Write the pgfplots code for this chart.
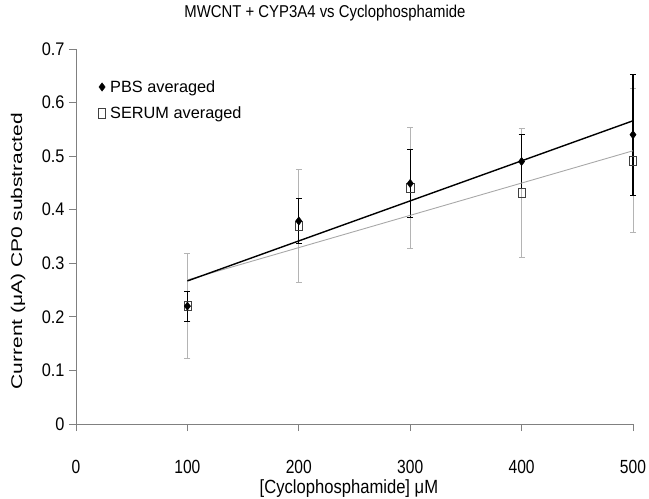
\documentclass[border=0pt]{standalone}
\usepackage{fontspec}
\setmainfont{Liberation Sans}
\usepackage{pgfplots}
\pgfplotsset{compat=1.18}
\definecolor{axgray}{HTML}{808080}
\definecolor{errgray}{HTML}{B4B4B4}
\definecolor{trendgray}{HTML}{A8A8A8}
\begin{document}
\begin{tikzpicture}
\useasboundingbox (0,0) rectangle (649bp,499bp);
\begin{axis}[
  at={(76bp,75bp)}, anchor=south west,
  scale only axis, width=557bp, height=375bp,
  xmin=0, xmax=500, ymin=0, ymax=0.7,
  axis lines=left,
  axis line style={-, axgray, line width=0.9bp},
  xtick={0,100,...,500},
  ytick={0,0.1,...,0.7},
  tick align=outside,
  major tick length=7bp,
  tick style={axgray, line width=0.8bp},
  /pgf/number format/assume math mode=true,
  /pgf/number format/fixed,
  xticklabel={\scalebox{1}[1.22]{\pgfmathprintnumber{\tick}}},
  yticklabel={\scalebox{1}[1.12]{\pgfmathprintnumber{\tick}}},
  xticklabel style={font=\fontsize{15.6bp}{18bp}\selectfont, yshift=-26bp},
  yticklabel style={font=\fontsize{16.3bp}{18bp}\selectfont, xshift=-1bp},
  every axis title shift=0pt,
  title={\scalebox{1}[1.15]{MWCNT + CYP3A4 vs Cyclophosphamide}},
  title style={at={(axis description cs:0.447,1.097)}, anchor=center, yshift=0pt, inner sep=0pt, font=\fontsize{14.9bp}{17bp}\selectfont},
  xlabel={\scalebox{1}[1.15]{[Cyclophosphamide] μM}},
  xlabel style={at={(axis description cs:0.490,-0.173)}, anchor=center, inner sep=0pt, font=\fontsize{16.6bp}{18bp}\selectfont},
  ylabel={\scalebox{1.35}[1]{Current (μA) CP0 substracted}},
  ylabel style={at={(axis description cs:-0.104,0.461)}, anchor=center, inner sep=0pt, font=\fontsize{15.5bp}{18bp}\selectfont},
  legend style={draw=none, fill=none, at={(axis description cs:0.040,0.917)}, anchor=north west,
    font=\fontsize{16.3bp}{19bp}\selectfont, row sep=13bp, inner sep=0pt,
    nodes={inner xsep=4.5bp, inner ysep=0pt}},
  legend cell align=left,
  reverse legend,
  clip=false,
]
% SERUM averaged
\addplot[only marks, mark=square, mark size=4bp, mark options={draw=black!75, fill=white, line width=0.6bp, xscale=0.9, yscale=1.15},
  error bars/.cd, y dir=both, y explicit,
  error bar style={errgray, line width=0.8bp},
  error mark options={rotate=90, errgray, mark size=3bp, line width=0.8bp}]
  coordinates {
  (100,0.220) +- (0,0.098)
  (200,0.370) +- (0,0.106)
  (300,0.441) +- (0,0.113)
  (400,0.431) +- (0,0.120)
  (500,0.492) +- (0,0.134)
  };
\addlegendentry{SERUM averaged}
% PBS averaged
\addplot[only marks, mark=diamond*, mark size=4.2bp, mark options={draw=black, fill=black},
  error bars/.cd, y dir=both, y explicit,
  error bar style={black, line width=1.1bp},
  error mark options={rotate=90, black, mark size=3bp, line width=1.1bp}]
  coordinates {
  (100,0.220) +- (0,0.028)
  (200,0.379) +- (0,0.042)
  (300,0.449) +- (0,0.064)
  (400,0.490) +- (0,0.050)
  (500,0.540) +- (0,0.113)
  };
\addlegendentry{PBS averaged}
% trend lines
\addplot[trendgray, line width=0.9bp, forget plot] coordinates {(100,0.269) (500,0.510)};
\addplot[black, line width=1.4bp, forget plot] coordinates {(100,0.267) (500,0.566)};
\end{axis}
\end{tikzpicture}
\end{document}
